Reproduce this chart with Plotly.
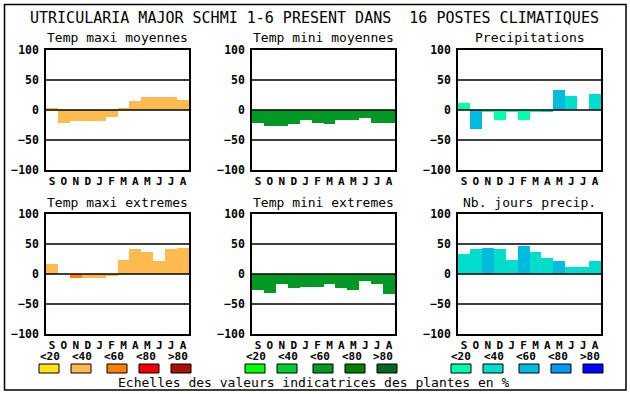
import plotly.graph_objects as go

W, H = 630, 394

months = ["S", "O", "N", "D", "J", "F", "M", "A", "M", "J", "J", "A"]
class_labels = ["&lt;20", "&lt;40", "&lt;60", "&lt;80", "&gt;80"]

maxi_colors = ["#FFE31A", "#FFBB50", "#FF8000", "#EE0000", "#AA1100"]
mini_colors = ["#00FF00", "#00CC33", "#009926", "#007F00", "#006622"]
prec_colors = ["#00FFAA", "#00DDCC", "#00BBDD", "#0099EE", "#0000FF"]

titles = ["Temp maxi moyennes", "Temp mini moyennes", "Precipitations",
          "Temp maxi extremes", "Temp mini extremes", "Nb. jours precip."]

temp_maxi_moy = [3, -21, -18, -18, -18, -11, 3, 15, 22, 22, 22, 17]
temp_maxi_moy_cls = [1] * 12
temp_mini_moy = [-22, -27, -26, -24, -17, -21, -24, -17, -17, -14, -21, -22]
temp_mini_moy_cls = [2] * 12
precip = [12, -31, -4, -16, -2, -16, -4, -2, 34, 24, 0, 26]
precip_cls = [0, 2, 0, 0, 0, 0, 0, 1, 2, 1, 1, 1]
temp_maxi_ext = [17, 0, -6, -7, -7, -2, 24, 42, 37, 21, 42, 44]
temp_maxi_ext_cls = [1, 1, 2, 1, 1, 1, 1, 1, 1, 1, 1, 1]
temp_mini_ext = [-27, -31, -17, -24, -22, -22, -16, -24, -26, -12, -16, -34]
temp_mini_ext_cls = [2] * 12
nb_jours = [34, 41, 44, 41, 24, 47, 36, 26, 22, 11, 12, 22]
nb_jours_cls = [1, 1, 2, 1, 1, 2, 1, 1, 2, 1, 1, 1]

series = [
    (temp_maxi_moy, temp_maxi_moy_cls, maxi_colors),
    (temp_mini_moy, temp_mini_moy_cls, mini_colors),
    (precip, precip_cls, prec_colors),
    (temp_maxi_ext, temp_maxi_ext_cls, maxi_colors),
    (temp_mini_ext, temp_mini_ext_cls, mini_colors),
    (nb_jours, nb_jours_cls, prec_colors),
]

col_left = [46, 252, 458]
plot_w = 143
row_top = [50, 214]
plot_h = 120

def px(x):
    return x / W

def py(y):
    return 1 - y / H

MONO = "DejaVu Sans Mono"
fig = go.Figure()
shapes = []
annotations = []

for i, (vals, cls, cols) in enumerate(series):
    r, c = divmod(i, 3)
    n = "" if i == 0 else str(i + 1)
    left = col_left[c]
    top = row_top[r]
    fig.add_trace(go.Bar(
        x=list(range(12)), y=vals,
        marker=dict(color=[cols[k] for k in cls], line=dict(width=0)),
        xaxis="x" + n, yaxis="y" + n, showlegend=False, hoverinfo="y",
    ))
    fig.update_layout(**{
        "xaxis" + n: dict(
            domain=[px(left), px(left + plot_w)], anchor="y" + n,
            range=[-0.5, 11.5], tickvals=list(range(12)), ticktext=months,
            showgrid=False, zeroline=False, showline=True, mirror=True,
            linecolor="black", linewidth=1.5, ticks="", ticklabelstandoff=0,
            tickfont=dict(family=MONO, size=11, color="black", weight="bold"),
            fixedrange=True, automargin=False,
        ),
        "yaxis" + n: dict(
            domain=[py(top + plot_h), py(top)], anchor="x" + n,
            range=[-100, 100], tickvals=[-100, -50, 0, 50, 100],
            showgrid=False, zeroline=False, showline=True, mirror=True,
            linecolor="black", linewidth=1.5, ticks="", ticklabelstandoff=3,
            tickfont=dict(family=MONO, size=11.5, color="black", weight="bold"),
            fixedrange=True, automargin=False,
        ),
    })
    for gv in (-50, 0, 50):
        shapes.append(dict(type="line", xref="x" + n + " domain", yref="y" + n,
                           x0=0, x1=1, y0=gv, y1=gv, layer="above",
                           line=dict(color="black", width=1.5)))
    annotations.append(dict(text=titles[i], x=px(left + plot_w / 2),
                            y=py(top - 12), xref="paper", yref="paper",
                            showarrow=False, xanchor="center", yanchor="middle",
                            font=dict(family=MONO, size=13, color="black")))
    if r == 1:
        for k in range(5):
            annotations.append(dict(text=class_labels[k], x=px(left + 3.5 + 32 * k),
                                    y=py(356), xref="paper", yref="paper",
                                    showarrow=False, xanchor="center", yanchor="middle",
                                    font=dict(family=MONO, size=11, color="black",
                                              weight="bold")))
        box_off = [-7, 25, 61, 93, 125]
        for k in range(5):
            x0 = left + box_off[k]
            shapes.append(dict(type="rect", xref="paper", yref="paper",
                               x0=px(x0), x1=px(x0 + 20), y0=py(373), y1=py(364),
                               fillcolor=cols[k], line=dict(color="black", width=1)))

# outer frame
shapes.append(dict(type="rect", xref="paper", yref="paper",
                   x0=px(4.5), x1=px(626), y0=py(390), y1=py(4.5),
                   line=dict(color="black", width=1.5)))

annotations.append(dict(
    text="UTRICULARIA MAJOR SCHMI 1-6 PRESENT DANS\u00a0 16 POSTES CLIMATIQUES",
    x=px(314), y=py(18), xref="paper", yref="paper", showarrow=False,
    xanchor="center", yanchor="middle",
    font=dict(family=MONO, size=15, color="black")))
annotations.append(dict(
    text="Echelles des valeurs indicatrices des plantes en %",
    x=px(314), y=py(382), xref="paper", yref="paper", showarrow=False,
    xanchor="center", yanchor="middle",
    font=dict(family=MONO, size=13, color="black")))

fig.update_layout(
    width=W, height=H, margin=dict(l=0, r=0, t=0, b=0, autoexpand=False),
    paper_bgcolor="white", plot_bgcolor="white",
    bargap=0, shapes=shapes, annotations=annotations,
)

fig.write_html("out.html", config={"displayModeBar": False},
               post_script="document.body.style.margin='0';document.body.style.overflow='hidden';")
